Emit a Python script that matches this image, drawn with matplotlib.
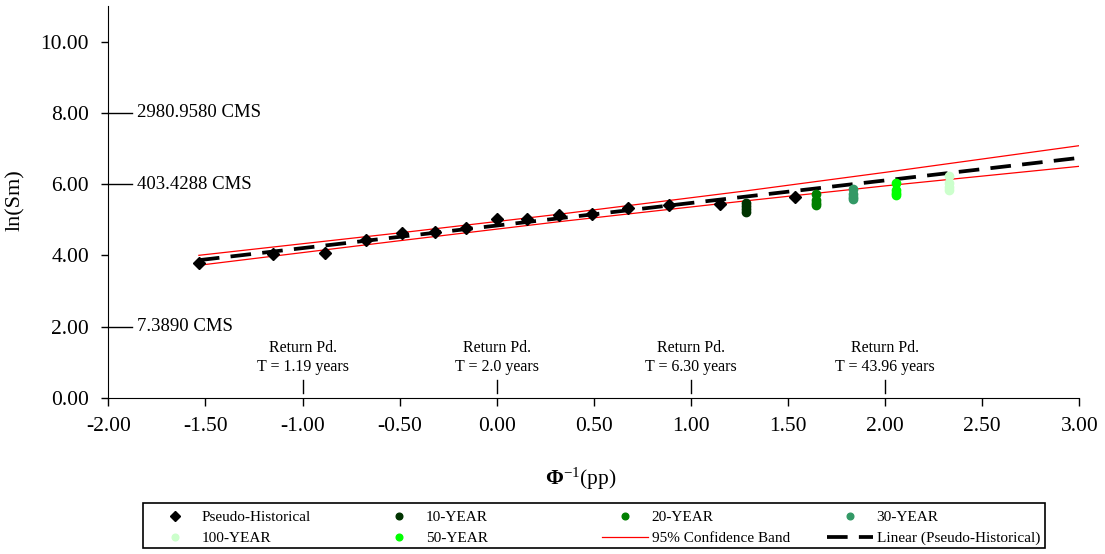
import numpy as np
import matplotlib
matplotlib.use("Agg")
import matplotlib.pyplot as plt
from matplotlib.patches import Rectangle

plt.rcParams['font.family'] = ['Liberation Serif', 'DejaVu Serif']
plt.rcParams['mathtext.fontset'] = 'custom'
plt.rcParams['mathtext.rm'] = 'Liberation Serif'
plt.rcParams['mathtext.bf'] = 'Liberation Serif:bold'
plt.rcParams['mathtext.it'] = 'Liberation Serif:italic'

# pseudo-historical annual peaks, standard normal quantile vs ln(flow)
pp_x = [-1.534, -1.150, -0.887, -0.674, -0.489, -0.319, -0.157, 0.0,
        0.157, 0.319, 0.489, 0.674, 0.887, 1.150, 1.534]
pp_y = [3.78, 4.04, 4.07, 4.43, 4.63, 4.66, 4.78, 5.02,
        5.02, 5.14, 5.17, 5.32, 5.40, 5.44, 5.64]

# simulated design floods for each return period
design_names = ["10-YEAR", "20-YEAR", "30-YEAR", "50-YEAR", "100-YEAR"]
design_x = [1.2816, 1.6449, 1.8339, 2.0537, 2.3263]
design_y = [
    [5.47, 5.38, 5.30, 5.23],
    [5.72, 5.55, 5.48, 5.42],
    [5.86, 5.71, 5.63, 5.58],
    [6.02, 5.83, 5.75, 5.68],
    [6.24, 6.02, 5.93, 5.84],
]
design_colors = ["#003300", "#008000", "#339966", "#00FF00", "#CCFFCC"]

# 95% confidence band on the fitted line
band_x = [-1.534, -0.5, 0.33, 1.283, 2.0, 3.0]
band_upper = [4.00, 4.63, 5.16, 5.81, 6.33, 7.08]
band_lower = [3.72, 4.41, 4.95, 5.53, 5.95, 6.50]

# return period markers along the x axis
rp_x = [-1.0, 0.0, 1.0, 2.0]
rp_labels = ["1.19", "2.0", "6.30", "43.96"]

# flow equivalents of a few ln(Sm) levels
cms_y = [2.0, 6.0, 8.0]
cms_labels = ["7.3890 CMS", "403.4288 CMS", "2980.9580 CMS"]

fig = plt.figure(figsize=(11.05, 5.54), dpi=100)
ax = fig.add_axes([0.0981, 0.2821, 0.8787, 0.7069])

ax.plot(band_x, band_upper, color="#FF0000", lw=0.9, zorder=2)
h_band, = ax.plot(band_x, band_lower, color="#FF0000", lw=0.9, zorder=2,
                  label="95% Confidence Band")

# linear trendline through the pseudo-historical series
slope, intercept = np.polyfit(pp_x, pp_y, 1)
fit_x = np.array([min(pp_x), 3.0])
h_fit, = ax.plot(fit_x, intercept + slope * fit_x, color="black", lw=2.7,
                 linestyle=(0, (5.5, 3)), zorder=3,
                 label="Linear (Pseudo-Historical)")

h_pp, = ax.plot(pp_x, pp_y, "D", color="black", ms=6, zorder=4,
                label="Pseudo-Historical")

design_handles = []
for name, x, ys, c in zip(design_names, design_x, design_y, design_colors):
    h, = ax.plot(np.full(len(ys), x), ys, "o", color=c, ms=6, zorder=4,
                 label=name)
    design_handles.append(h)

ax.set_xlim(-2, 3)
ax.set_ylim(0, 11)
ax.set_xticks(np.arange(-2, 3.01, 0.5))
ax.set_yticks(np.arange(0, 10.01, 2))
ax.xaxis.set_major_formatter(matplotlib.ticker.FormatStrFormatter("%.2f"))
ax.yaxis.set_major_formatter(matplotlib.ticker.FormatStrFormatter("%.2f"))
ax.tick_params(axis="x", direction="out", length=6, width=1, labelsize=15.5, pad=8)
ax.tick_params(axis="y", direction="out", length=5, width=1, labelsize=15.5, pad=9)
ax.spines["top"].set_visible(False)
ax.spines["right"].set_visible(False)

ax.set_ylabel("ln(Sm)", fontsize=16)
ax.yaxis.set_label_coords(-0.086, 0.505)
ax.set_xlabel(r"$\mathbf{\Phi}^{\mathrm{-1}}$(pp)", fontsize=15.5)
ax.xaxis.set_label_coords(0.486, -0.174)

for y, lab in zip(cms_y, cms_labels):
    ax.plot([-2, -1.88], [y, y], color="black", lw=1, clip_on=False)
    ax.text(-1.855, y, lab, fontsize=13.5, va="center", ha="left")

for x, t in zip(rp_x, rp_labels):
    ax.text(x, 1.12, "Return Pd.\nT = " + t + " years", fontsize=11.5,
            ha="center", va="center", linespacing=1.25)
    ax.plot([x, x], [0.13, 0.5], color="black", lw=1)

# legend laid out as four fixed-width columns inside one box
columns = [
    [h_pp, design_handles[4]],
    [design_handles[0], design_handles[3]],
    [design_handles[1], h_band],
    [design_handles[2], h_fit],
]
col_left = [152, 376, 602, 827]
for handles, left in zip(columns, col_left):
    fig.legend(handles=handles, labels=[h.get_label() for h in handles],
               loc="upper left", bbox_to_anchor=(left / 1105, 0.078),
               frameon=False, fontsize=11, handlelength=3, handletextpad=0.25,
               borderpad=0, borderaxespad=0, labelspacing=0.45, numpoints=1,
               markerscale=0.8)
fig.add_artist(Rectangle((143 / 1105, 6 / 554), 902 / 1105, 45 / 554,
                         transform=fig.transFigure, fill=False,
                         edgecolor="black", lw=1.2))

fig.savefig("out.png", dpi=100)
